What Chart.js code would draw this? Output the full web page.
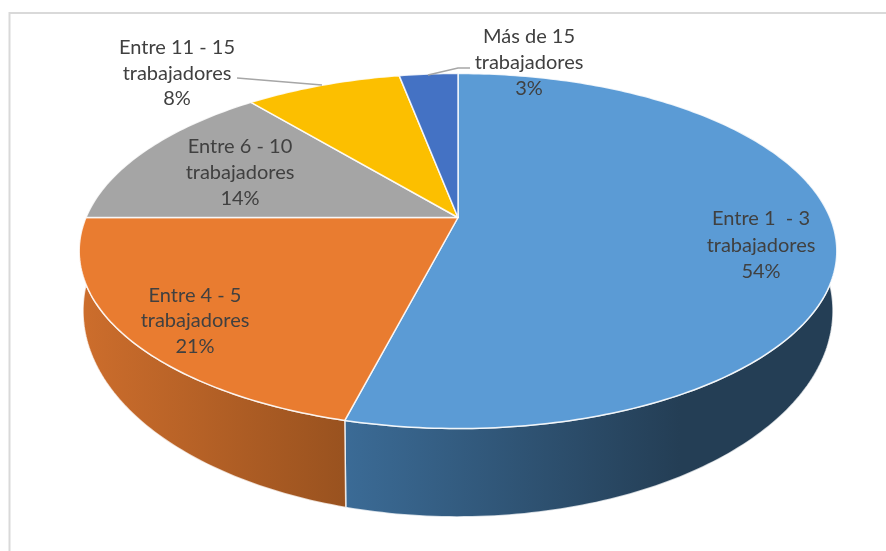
<!DOCTYPE html>
<html lang="es">
<head>
<meta charset="utf-8">
<title>Trabajadores</title>
<script src="https://cdn.jsdelivr.net/npm/chart.js@4/dist/chart.umd.js"></script>
<style>
    html, body { margin: 0; padding: 0; background: #fff; }
    canvas { display: block; }
</style>
</head>
<body>
<canvas id="miGrafico" width="886" height="551"></canvas>
<script>
const categorias = ['Entre 1  - 3 trabajadores', 'Entre 4 - 5 trabajadores', 'Entre 6 - 10 trabajadores', 'Entre 11 - 15 trabajadores', 'Más de 15 trabajadores'];
const valores = [54, 21, 14, 8, 3];
const colores = ['#5b9bd5', '#e97c30', '#a5a5a5', '#fcbf00', '#4472c4'];

// Posicion de cada etiqueta: centro x y la y de cada una de sus tres lineas
const etiquetasX = [761, 195, 240, 177, 529];
const etiquetasY = [[219, 246, 272], [296, 321, 347], [147, 173, 199], [48, 74, 99], [37, 63, 89]];

// Lineas guia de las dos etiquetas que quedan fuera del pastel
const guias = [
    [[237, 78], [322, 85]],
    [[470, 68], [458, 68], [428, 75]]
];

// Proyeccion en perspectiva del disco superior y del inferior
const discoArriba = { cx: 458, y0: 217.5, k: 372, a: 171.2, c: -0.1887 };
const discoAbajo = { cx: 458, y0: 271.7, k: 368.2, a: 198.6, c: -0.19 };

// Degradados de la pared lateral (solo las porciones que se ven de frente)
const paredes = [
    { x0: 345, x1: 680, stops: ['#3b6b96', '#243e55'] },
    { x0: 85, x1: 345, stops: ['#cc6d2c', '#99521f'] }
];

function proyectar(disco, angulo) {
    const u = Math.cos(angulo);
    const v = Math.sin(angulo);
    const w = 1 + disco.c * v;
    return [disco.cx + disco.k * u / w, disco.y0 + disco.a * v / w];
}

function puntosArco(disco, inicio, fin) {
    const pasos = Math.max(2, Math.ceil((fin - inicio) * 60));
    const puntos = [];
    for (let i = 0; i <= pasos; i++) {
        puntos.push(proyectar(disco, inicio + (fin - inicio) * i / pasos));
    }
    return puntos;
}

function trazar(ctx, puntos) {
    puntos.forEach((p) => ctx.lineTo(p[0], p[1]));
}

// Dibuja las porciones con los angulos que calcula Chart.js
const pastel3d = {
    id: 'pastel3d',
    beforeDatasetsDraw(chart) {
        const ctx = chart.ctx;
        const arcos = chart.getDatasetMeta(0).data;
        ctx.save();
        ctx.lineJoin = 'round';

        // Paredes primero, el disco superior las tapa
        paredes.forEach((pared, i) => {
            const arco = arcos[i];
            const inicio = Math.max(arco.startAngle, -0.6);
            const fin = Math.min(arco.endAngle, Math.PI + 0.6);
            const gradiente = ctx.createLinearGradient(pared.x0, 0, pared.x1, 0);
            gradiente.addColorStop(0, pared.stops[0]);
            gradiente.addColorStop(1, pared.stops[1]);
            ctx.beginPath();
            trazar(ctx, puntosArco(discoArriba, inicio, fin).concat(puntosArco(discoAbajo, inicio, fin).reverse()));
            ctx.closePath();
            ctx.fillStyle = gradiente;
            ctx.fill();
            ctx.strokeStyle = 'rgba(255,255,255,0.75)';
            ctx.lineWidth = 1.5;
            ctx.stroke();
        });

        arcos.forEach((arco) => {
            ctx.beginPath();
            ctx.moveTo(discoArriba.cx, discoArriba.y0);
            trazar(ctx, puntosArco(discoArriba, arco.startAngle, arco.endAngle));
            ctx.closePath();
            ctx.fillStyle = arco.options.backgroundColor;
            ctx.fill();
            ctx.strokeStyle = 'rgba(255,255,255,0.85)';
            ctx.lineWidth = 1.5;
            ctx.stroke();
        });
        ctx.restore();
        return false;
    },
    afterDraw(chart) {
        const ctx = chart.ctx;
        ctx.save();
        // Marco del grafico
        ctx.strokeStyle = '#d9d9d9';
        ctx.lineWidth = 2;
        ctx.beginPath();
        ctx.moveTo(9.5, 551);
        ctx.lineTo(9.5, 13);
        ctx.lineTo(886, 13);
        ctx.stroke();

        ctx.strokeStyle = '#a6a6a6';
        ctx.lineWidth = 1.5;
        guias.forEach((guia) => {
            ctx.beginPath();
            trazar(ctx, guia);
            ctx.stroke();
        });

        ctx.fillStyle = '#404040';
        ctx.font = '20px Lato';
        ctx.textAlign = 'center';
        ctx.textBaseline = 'middle';
        categorias.forEach((categoria, i) => {
            const corte = categoria.lastIndexOf(' ');
            const lineas = [categoria.slice(0, corte), categoria.slice(corte + 1), valores[i] + '%'];
            lineas.forEach((linea, j) => ctx.fillText(linea, etiquetasX[i], etiquetasY[i][j]));
        });
        ctx.restore();
    }
};

new Chart(document.getElementById('miGrafico').getContext('2d'), {
    type: 'pie',
    data: {
        labels: categorias,
        datasets: [{
            data: valores,
            backgroundColor: colores,
            borderWidth: 0
        }]
    },
    options: {
        responsive: false,
        animation: false,
        plugins: {
            legend: { display: false },
            tooltip: { enabled: false }
        }
    },
    plugins: [pastel3d]
});
</script>
</body>
</html>
